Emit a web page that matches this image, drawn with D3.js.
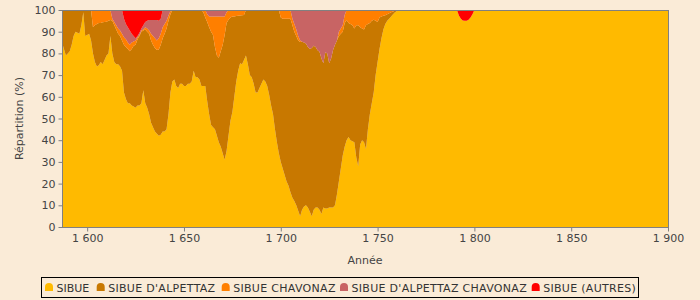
<!DOCTYPE html>
<html>
<head>
<meta charset="utf-8">
<script src="https://cdn.jsdelivr.net/npm/d3@7"></script>
<style>
  body { margin: 0; background: #FAEBD7; }
  svg { display: block; font-family: "DejaVu Sans", sans-serif; }
</style>
</head>
<body>
<script>
// years: yearly from 1587 to 1761, then the small bump near 1795, then 1900
const years = d3.range(1587, 1762).concat([1791, 1792, 1793, 1794, 1795, 1796, 1797, 1798, 1799, 1800, 1900]);

// share of each name (%)
const sibue = [
  85, 82, 79, 80, 81, 84, 88, 90, 89.5, 89,
  93, 99, 88, 88.5, 89, 86, 80, 76, 74, 74.5,
  76, 75, 77, 79, 80, 88, 80, 76, 75, 75,
  74, 72, 62, 59, 57, 57, 56, 55.5, 55, 56,
  56, 57, 63, 57, 55, 52, 48, 46, 44, 43,
  42, 42.5, 44, 44, 45, 52, 62, 67, 68, 65,
  64, 66, 66, 65, 65, 66, 66, 67, 72, 69,
  69, 68, 65, 65, 65, 58, 52, 47, 46, 45,
  42, 39, 37, 34, 31, 35, 42, 49, 53, 60,
  67, 72, 75.5, 75, 77, 79, 75, 70, 69, 66,
  62, 62, 64, 66, 68, 67, 65, 61, 56, 52,
  45, 39, 34, 30, 27, 24, 21, 19, 16, 13.5,
  12, 10, 7.5, 5, 8, 9.5, 10, 9, 7, 5,
  8, 9, 9, 8, 6, 9, 8.5, 8.5, 9, 9,
  9, 10, 15, 21, 27, 33, 37, 40, 41.5, 40,
  39.5, 39, 32, 28, 38, 40, 39, 36, 45, 52,
  57, 62, 70, 76, 82, 87, 91, 93.5, 95, 96,
  97, 98, 99, 99.5, 100,
  100, 97.5, 96, 95.2, 95, 95, 95.5, 96.5, 98, 100, 100
];
const alpettaz = [
  15, 18, 21, 20, 19, 16, 12, 10, 10.5, 11,
  7, 1, 12, 11.5, 11, 14, 12, 17, 19.5, 19.5,
  18, 19.3, 17.5, 15.6, 15, 7.4, 15, 17, 16, 14,
  14, 14, 22, 24, 25, 24, 26, 28, 29, 30.5,
  32, 33, 27.5, 34, 35, 37, 38, 38, 38.5, 38.6,
  39.8, 41.5, 43, 45, 46.5, 43, 36, 33, 32, 35,
  36, 34, 34, 35, 35, 34, 34, 33, 28, 31,
  31, 32, 35, 34, 31.5, 36.5, 40, 43, 42.5, 38,
  37, 39, 44, 50, 57.5, 59, 53.5, 47.5, 44, 37,
  30.2, 25.4, 22, 22.6, 20.7, 21, 25, 30, 31, 34,
  38, 38, 36, 34, 32, 33, 35, 39, 44, 48,
  55, 61, 66, 66.5, 69, 72, 75, 77, 80, 79.5,
  78, 78, 78.5, 80.2, 77.4, 75.5, 74.6, 74, 75, 77.5,
  75.5, 74, 72.5, 72.8, 71.7, 66.5, 72, 71.5, 66.5, 68.7,
  72.6, 74, 71, 67, 62, 57, 57, 55.4, 52.5, 53.5,
  53.5, 52.5, 61, 65, 54, 51.5, 52, 57, 48.5, 42,
  38, 33.5, 25, 18.5, 14.5, 10, 6.3, 4.1, 3, 2.5,
  2, 1.3, 0.7, 0.5, 0,
  0, 0, 0, 0, 0, 0, 0, 0, 0, 0, 0
];
const chavonaz = [
  0, 0, 0, 0, 0, 0, 0, 0, 0, 0,
  0, 0, 0, 0, 0, 0, 8, 7, 6.5, 6,
  6, 5.7, 5.5, 5.4, 5, 4.6, 1, 1.5, 2, 2.5,
  2.5, 3, 3.5, 3.5, 3, 3, 3, 2, 2, 1,
  0.5, 0.5, 0.5, 1, 1.5, 1.5, 3, 4, 4.5, 4.4,
  5.2, 5, 5, 4.5, 3.5, 2.5, 1.5, 0, 0, 0,
  0, 0, 0, 0, 0, 0, 0, 0, 0, 0,
  0, 0, 0, 1, 3.5, 3.5, 5, 7, 8.5, 14,
  18, 19, 16, 13, 8.5, 5, 4.5, 3.5, 3, 3,
  2.8, 2.6, 2.5, 2.4, 2.3, 0, 0, 0, 0, 0,
  0, 0, 0, 0, 0, 0, 0, 0, 0, 0,
  0, 0, 0, 3.5, 4, 4, 4, 4, 4, 3,
  3.5, 3, 2, 0.8, 0, 0, 0, 0, 0, 0,
  0, 0, 0, 0, 0, 0, 0, 0, 0, 0,
  0, 0, 0, 2, 2.5, 3, 3.7, 4.6, 6, 6.5,
  7, 8.5, 7, 7, 8, 8.5, 9, 7, 6.5, 6,
  5, 4.5, 5, 5.5, 3.5, 3, 2.7, 2.4, 2, 1.5,
  1, 0.7, 0.3, 0, 0,
  0, 0, 0, 0, 0, 0, 0, 0, 0, 0, 0
];
const alpettazChavonaz = [
  0, 0, 0, 0, 0, 0, 0, 0, 0, 0,
  0, 0, 0, 0, 0, 0, 0, 0, 0, 0,
  0, 0, 0, 0, 0, 0, 4, 5.5, 7, 8.5,
  9.5, 11, 8.5, 7, 7, 6.5, 4, 2.5, 1, 0.5,
  1, 1, 2, 2.5, 3.5, 4.9, 6.4, 7.4, 8.4, 9.4,
  8, 7, 8, 6.5, 5, 2.5, 0.5, 0, 0, 0,
  0, 0, 0, 0, 0, 0, 0, 0, 0, 0,
  0, 0, 0, 0, 0, 2, 3, 3, 3, 3,
  3, 3, 3, 3, 3, 1, 0, 0, 0, 0,
  0, 0, 0, 0, 0, 0, 0, 0, 0, 0,
  0, 0, 0, 0, 0, 0, 0, 0, 0, 0,
  0, 0, 0, 0, 0, 0, 0, 0, 0, 4,
  6.5, 9, 12, 14, 14.6, 15, 15.4, 17, 18, 17.5,
  16.5, 17, 18.5, 19.2, 22.3, 24.5, 19.5, 20, 24.5, 22.3,
  18.4, 16, 14, 10, 8.5, 7, 2.3, 0, 0, 0,
  0, 0, 0, 0, 0, 0, 0, 0, 0, 0,
  0, 0, 0, 0, 0, 0, 0, 0, 0, 0,
  0, 0, 0, 0, 0,
  0, 0, 0, 0, 0, 0, 0, 0, 0, 0, 0
];
const autres = [
  0, 0, 0, 0, 0, 0, 0, 0, 0, 0,
  0, 0, 0, 0, 0, 0, 0, 0, 0, 0,
  0, 0, 0, 0, 0, 0, 0, 0, 0, 0,
  0, 0, 4, 6.5, 8, 9.5, 11, 12, 13, 12,
  10.5, 8.5, 7, 5.5, 5, 4.6, 4.6, 4.6, 4.6, 4.6,
  5, 4, 0, 0, 0, 0, 0, 0, 0, 0,
  0, 0, 0, 0, 0, 0, 0, 0, 0, 0,
  0, 0, 0, 0, 0, 0, 0, 0, 0, 0,
  0, 0, 0, 0, 0, 0, 0, 0, 0, 0,
  0, 0, 0, 0, 0, 0, 0, 0, 0, 0,
  0, 0, 0, 0, 0, 0, 0, 0, 0, 0,
  0, 0, 0, 0, 0, 0, 0, 0, 0, 0,
  0, 0, 0, 0, 0, 0, 0, 0, 0, 0,
  0, 0, 0, 0, 0, 0, 0, 0, 0, 0,
  0, 0, 0, 0, 0, 0, 0, 0, 0, 0,
  0, 0, 0, 0, 0, 0, 0, 0, 0, 0,
  0, 0, 0, 0, 0, 0, 0, 0, 0, 0,
  0, 0, 0, 0, 0,
  0, 2.5, 4, 4.8, 5, 5, 4.5, 3.5, 2, 0, 0
];

const seriesNames = ["SIBUE", "SIBUE D'ALPETTAZ", "SIBUE CHAVONAZ", "SIBUE D'ALPETTAZ CHAVONAZ", "SIBUE (AUTRES)"];
const seriesValues = [sibue, alpettaz, chavonaz, alpettazChavonaz, autres];
const colors = ["#FFBA00", "#C87800", "#FF7F00", "#C86464", "#FF0000"];
const yTicks = [0, 10, 20, 30, 40, 50, 60, 70, 80, 90, 100];
const xTicks = [1600, 1650, 1700, 1750, 1800, 1850, 1900];

const W = 700, H = 300;
const plot = { left: 62, right: 668, top: 10, bottom: 227 };

const svg = d3.select("body").append("svg")
  .attr("width", W)
  .attr("height", H);

// build rows for the stack
const rows = years.map((yr, i) => {
  const r = { year: yr };
  seriesNames.forEach((n, k) => { r[n] = seriesValues[k][i]; });
  return r;
});

const stack = d3.stack().keys(seriesNames).offset(d3.stackOffsetExpand);
const layers = stack(rows);

const x = d3.scaleLinear().domain([1587, 1900]).range([plot.left, plot.right]);
const y = d3.scaleLinear().domain([0, 100]).range([plot.bottom, plot.top]);

const area = d3.area()
  .x(d => x(d.data.year))
  .y0(d => y(d[0] * 100))
  .y1(d => y(d[1] * 100));

svg.append("g")
  .selectAll("path")
  .data(layers)
  .join("path")
  .attr("fill", (d, i) => colors[i])
  .attr("d", area);

// plot frame
svg.append("rect")
  .attr("x", plot.left + 0.5)
  .attr("y", plot.top + 0.5)
  .attr("width", plot.right - plot.left)
  .attr("height", plot.bottom - plot.top)
  .attr("fill", "none")
  .attr("stroke", "#808080");

const fr = d3.formatLocale({ decimal: ",", thousands: " ", grouping: [3], currency: ["", " €"] });

// y axis
const yAxis = svg.append("g")
  .attr("transform", `translate(${plot.left + 0.5},0)`)
  .call(d3.axisLeft(y).tickValues(yTicks).tickSize(4).tickSizeOuter(0).tickPadding(3));
yAxis.select(".domain").remove();
yAxis.selectAll("line").attr("stroke", "#808080");
yAxis.selectAll("text").attr("fill", "#444").style("font-size", "11px").style("font-family", "DejaVu Sans");

// x axis
const xAxis = svg.append("g")
  .attr("transform", `translate(0,${plot.bottom + 0.5})`)
  .call(d3.axisBottom(x).tickValues(xTicks).tickFormat(fr.format(",d")).tickSize(4).tickSizeOuter(0).tickPadding(3));
xAxis.select(".domain").remove();
xAxis.selectAll("line").attr("stroke", "#808080");
xAxis.selectAll("text").attr("fill", "#444").style("font-size", "11px").style("font-family", "DejaVu Sans");

// axis titles
svg.append("text")
  .attr("x", (plot.left + plot.right) / 2)
  .attr("y", 264)
  .attr("text-anchor", "middle")
  .attr("fill", "#444")
  .style("font-size", "11px")
  .text("Année");

svg.append("text")
  .attr("transform", `translate(23,${(plot.top + plot.bottom) / 2}) rotate(-90)`)
  .attr("text-anchor", "middle")
  .attr("fill", "#444")
  .style("font-size", "11px")
  .text("Répartition (%)");

// legend: item positions as in the original layout
const legendX = [45, 96.7, 221.7, 340, 531.7];
const legend = svg.append("g");
legend.append("rect")
  .attr("x", 41.5)
  .attr("y", 277.5)
  .attr("width", 597)
  .attr("height", 20)
  .attr("fill", "none")
  .attr("stroke", "#000");

seriesNames.forEach((name, i) => {
  const g = legend.append("g").attr("transform", `translate(${legendX[i]},283)`);
  g.append("path")
    .attr("d", "M0,8 L0,4 A4,4 0 0 1 8,4 L8,8 Z")
    .attr("fill", colors[i]);
  g.append("text")
    .attr("x", 11.5)
    .attr("y", 8.5)
    .attr("fill", "#333")
    .style("font-size", "11px")
    .style("letter-spacing", i === 0 ? "0px" : "0.3px")
    .text(name);
});
</script>
</body>
</html>
